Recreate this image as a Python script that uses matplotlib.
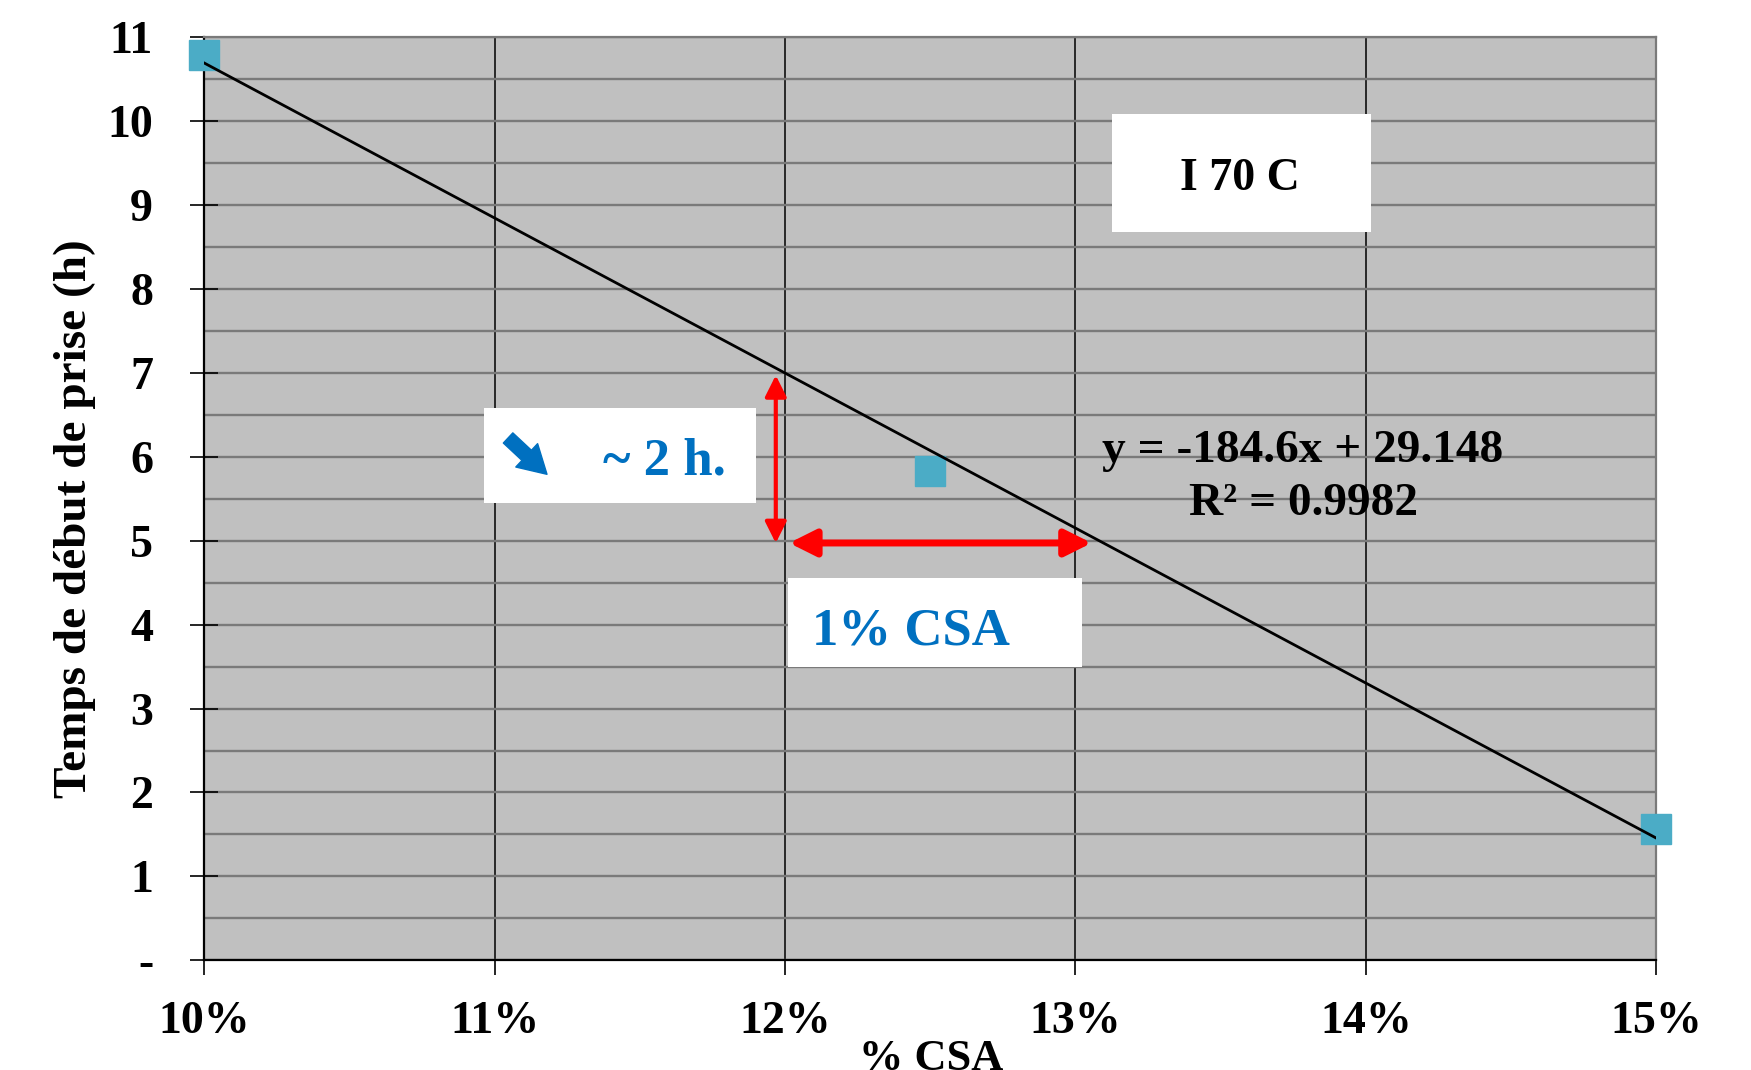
import matplotlib.pyplot as plt
from matplotlib.patches import Rectangle
from matplotlib.ticker import FuncFormatter, MultipleLocator

# données
pct_csa = [0.10, 0.125, 0.15]
temps_prise = [10.78, 5.83, 1.56]
pente = -184.6
ordonnee = 29.148
r2 = 0.9982
x_ticks = [0.10, 0.11, 0.12, 0.13, 0.14, 0.15]
y_ticks = list(range(0, 12))

# couleurs
fond = "#c0c0c0"
grille = "#7a7a7a"
marqueur = "#4bacc6"
bleu = "#0070c0"
rouge = "#ff0000"

plt.rcParams['font.family'] = ['Liberation Serif', 'DejaVu Serif']
plt.rcParams['font.weight'] = 'bold'

fig = plt.figure(figsize=(17.51, 10.70), dpi=100)
ax = fig.add_axes([0.11673, 0.10243, 0.82907, 0.86308])
ax.set_facecolor(fond)

ax.set_xlim(0.10, 0.15)
ax.set_ylim(0, 11)

# grille
ax.yaxis.set_major_locator(MultipleLocator(1))
ax.yaxis.set_minor_locator(MultipleLocator(0.5))
ax.set_xticks(x_ticks)
ax.grid(True, axis='y', which='both', color=grille, lw=1.7)
ax.grid(True, axis='x', which='major', color='black', lw=1.1)
ax.set_axisbelow(True)

for s in ['left', 'bottom']:
    ax.spines[s].set_color('black')
    ax.spines[s].set_linewidth(1.6)
for s in ['top', 'right']:
    ax.spines[s].set_color(grille)
    ax.spines[s].set_linewidth(1.6)

ax.xaxis.set_major_formatter(FuncFormatter(lambda v, p: f"{v * 100:.0f}%"))
ax.yaxis.set_major_formatter(FuncFormatter(lambda v, p: "-" if v == 0 else f"{v:.0f}"))
ax.tick_params(axis='y', which='major', direction='inout', length=20, width=1.2,
               pad=27, labelsize=33)
ax.tick_params(axis='y', which='minor', length=0)
ax.tick_params(axis='x', which='major', direction='out', length=11, width=1.2,
               pad=18, labelsize=33)

# points + courbe de tendance
ax.plot(pct_csa, temps_prise, 's', color=marqueur, ms=21, clip_on=False, zorder=3)
x0, x1 = pct_csa[0], pct_csa[-1]
ax.plot([x0, x1], [pente * x0 + ordonnee, pente * x1 + ordonnee],
        color='black', lw=2, zorder=4)

# libellés des axes
fig.text(0.0428, 0.515, "Temps de début de prise (h)", rotation=90,
         ha='center', va='center', fontsize=34)
fig.text(0.532, 0.0, "% CSA", ha='center', va='baseline', fontsize=32)

# cadres blancs
for (xa, xb, ya, yb) in [(0.13125, 0.14018, 8.680, 10.079),
                         (0.10963, 0.11900, 5.449, 6.580),
                         (0.12011, 0.13023, 3.499, 4.549)]:
    ax.add_patch(Rectangle((xa, ya), xb - xa, yb - ya, facecolor='white',
                           edgecolor='none', zorder=5))

ax.text(0.13567, 9.177, "I 70 C", ha='center', va='baseline', fontsize=33, zorder=6)
ax.annotate("", xy=(0.11180, 5.79), xytext=(0.11046, 6.223),
            arrowprops=dict(arrowstyle='simple,head_length=1.0,head_width=1.15,tail_width=0.5',
                            color=bleu, mutation_scale=20, shrinkA=0, shrinkB=0),
            zorder=6)
ax.text(0.11373, 5.782, "~ 2 h.", ha='left', va='baseline', fontsize=38,
        color=bleu, zorder=6)
ax.text(0.12092, 3.757, "1% CSA", ha='left', va='baseline', fontsize=38,
        color=bleu, zorder=6)

ax.text(0.13784, 5.940, f"y = {pente}x + {ordonnee}", ha='center', va='baseline',
        fontsize=34, zorder=6)
ax.text(0.13784, 5.305, f"R² = {r2}", ha='center', va='baseline',
        fontsize=34, zorder=6)

# flèches rouges
ax.annotate("", xy=(0.11968, 6.97), xytext=(0.11968, 4.97),
            arrowprops=dict(arrowstyle='<|-|>', color=rouge, lw=3,
                            mutation_scale=32, shrinkA=0, shrinkB=0), zorder=6)
ax.annotate("", xy=(0.13056, 4.972), xytext=(0.12014, 4.972),
            arrowprops=dict(arrowstyle='<|-|>', color=rouge, lw=5,
                            mutation_scale=40, shrinkA=0, shrinkB=0), zorder=6)

fig.savefig("out.png", dpi=100)
